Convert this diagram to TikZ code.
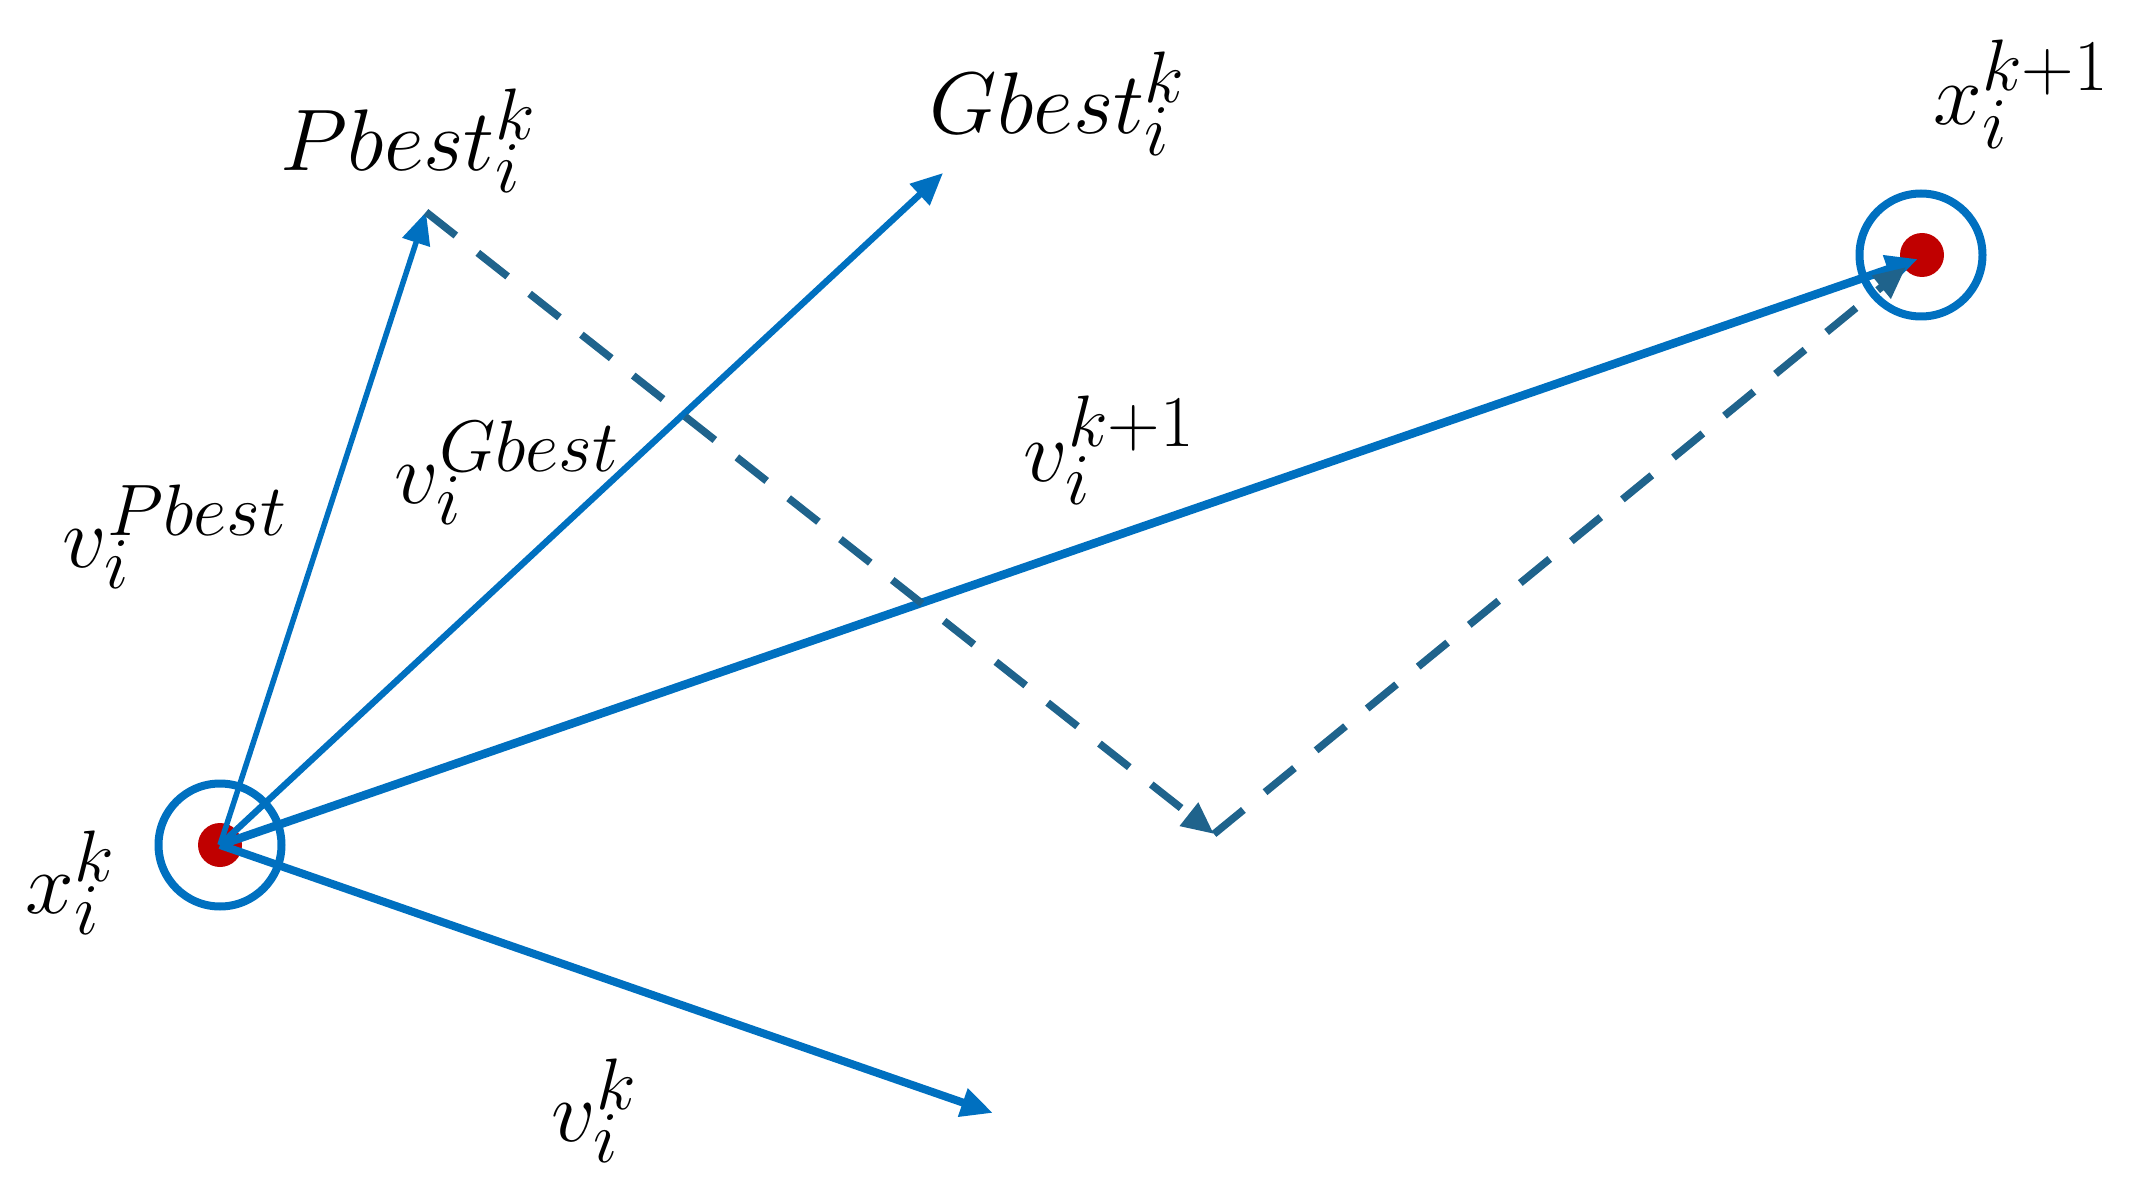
\documentclass[tikz,border=0pt]{standalone}
\usetikzlibrary{arrows.meta}
\DeclareMathSizes{26}{26}{20}{15}
\definecolor{vblue}{RGB}{0,112,192}
\definecolor{dteal}{RGB}{31,99,140}
\definecolor{pred}{RGB}{192,0,0}
\begin{document}
\begin{tikzpicture}[x=0.1mm,y=-0.1mm,
  lbl/.style={inner sep=0,anchor=base west,font=\fontsize{26}{30}\selectfont},
  vhead/.style={-{Triangle[length=3.2mm,width=2.8mm]}},
  vec/.style={draw=vblue,line width=0.65mm,vhead},
  dvec/.style={draw=dteal,line width=0.75mm,dash pattern=on 3.8mm off 2.8mm,vhead},
  ring/.style={circle,draw=vblue,line width=0.8mm,minimum size=12.3mm,inner sep=0},
  dot/.style={circle,fill=pred,minimum size=4.4mm,inner sep=0}]
\useasboundingbox (0,0) rectangle (2142,1197);
% particles
\node[ring] (rk) at (220,845) {};
\node[dot] (dk) at (220,845) {};
\node[ring] (rk1) at (1921,255) {};
\node[dot] (dk1) at (1922,255) {};
% end points
\coordinate (pb) at (426,212);
\coordinate (gb) at (943,173);
\coordinate (vk) at (993,1113);
\coordinate (cn) at (1214,834);
\coordinate (t1) at (1918,259);
\coordinate (t2) at (1906,267);
% vectors
\draw[vec,line width=0.55mm] (dk.center) -- (pb);
\draw[vec,line width=0.65mm] (dk.center) -- (gb);
\draw[vec,line width=0.8mm] (dk.center) -- (vk);
\draw[vec,line width=0.85mm] (dk.center) -- (t1);
\draw[dvec] (pb) -- (cn);
\draw[dvec] (cn) -- (t2);
% labels
\node[lbl] (lpb) at (280,171) {$Pbest_i^k$};
\node[lbl] (lgb) at (929,134) {$Gbest_i^k$};
\node[lbl] (lx1) at (1933,125) {$x_i^{k+1}$};
\node[lbl] (lvp) at (62,567) {$v_i^{Pbest}$};
\node[lbl] (lvg) at (394,503) {$v_i^{Gbest}$};
\node[lbl] (lv1) at (1023,481) {$v_i^{k+1}$};
\node[lbl] (lvk) at (551,1141) {$v_i^k$};
\node[lbl] (lxk) at (25,913) {$x_i^k$};
\end{tikzpicture}
\end{document}
